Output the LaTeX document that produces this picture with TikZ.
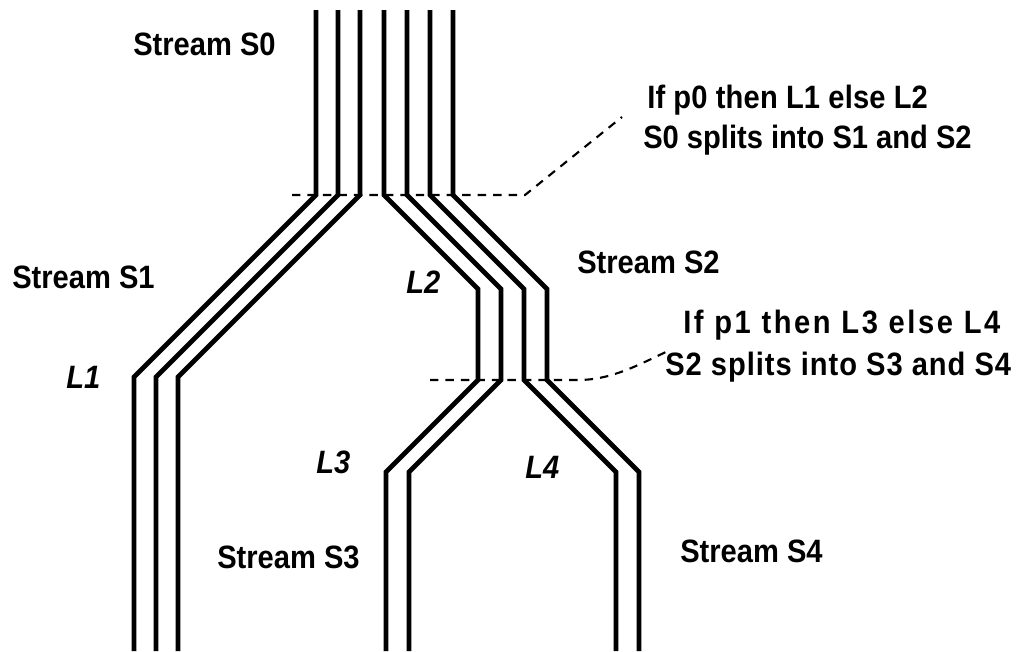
\documentclass[tikz,border=0pt]{standalone}
\usepackage{fontspec}
\setmainfont[FakeStretch=0.9]{Liberation Sans}
\usetikzlibrary{positioning}
\definecolor{inkBlack}{HTML}{000000}
\tikzset{
  strm/.style={draw=inkBlack, line width=3.5pt},
  leader/.style={draw=inkBlack, line width=1.5pt, dash pattern=on 6pt off 5pt},
  lblS/.style={anchor=base west, inner sep=0pt, text=inkBlack,
               font=\bfseries\fontsize{23}{27}\selectfont},
  lblL/.style={anchor=base west, inner sep=0pt, text=inkBlack,
               font=\bfseries\itshape\fontsize{23}{27}\selectfont},
  lblC/.style={lblS, font=\bfseries\fontsize{23}{27}\selectfont\addfontfeatures{LetterSpace=#1}},
}
\begin{document}
\begin{tikzpicture}[x=0.025cm, y=-0.025cm]
  \useasboundingbox (0,0) rectangle (1023,651);
  % Corriente S0 -> S1 (izquierda)
  \foreach \x in {316,338,360}
    \draw[strm] (\x,10) -- (\x,195) -- (\x-182,377) -- (\x-182,651);
  % Corriente S0 -> S2 -> S3
  \foreach \x in {384,407}
    \draw[strm] (\x,10) -- (\x,195) -- (\x+94,289) -- (\x+94,380)
      -- (\x+2,472) -- (\x+2,651);
  % Corriente S0 -> S2 -> S4
  \foreach \x in {430,453}
    \draw[strm] (\x,10) -- (\x,195) -- (\x+94,289) -- (\x+94,380)
      -- (\x+186,472) -- (\x+186,651);
  % Etiquetas de corrientes y ramas
  \node[lblS] (s0) at (133,55) {Stream S0};
  \node[lblS] (s1) at (12,288) {Stream S1};
  \node[lblS] (s2) at (577,273) {Stream S2};
  \node[lblS] (s3) at (217,568) {Stream S3};
  \node[lblS] (s4) at (680,562) {Stream S4};
  \node[lblL] (l1) at (66,388) {L1};
  \node[lblL] (l2) at (406,293) {L2};
  \node[lblL] (l3) at (316,473) {L3};
  \node[lblL] (l4) at (525,478) {L4};
  % Condiciones
  \node[lblC=0.5] (c0) at (647,108) {If p0 then L1 else L2};
  \node[lblC=0] (d0) at (643,148) {S0 splits into S1 and S2};
  \node[lblC=8] (c1) at (683,333) {If p1 then L3 else L4};
  \node[lblC=3] (d1) at (665,375) {S2 splits into S3 and S4};
  % Lineas de referencia
  \coordinate (k0) at (292,195);
  \coordinate (k0e) at (525,195);
  \coordinate (t0) at (622,117);
  \coordinate (k1) at (430,380);
  \coordinate (k1e) at (578,380);
  \coordinate (t1) at (668,351);
  \draw[leader] (k0) -- (k0e) -- (t0);
  \draw[leader] (k1) -- (k1e) .. controls (612,380) and (640,364) .. (t1);
\end{tikzpicture}
\end{document}
